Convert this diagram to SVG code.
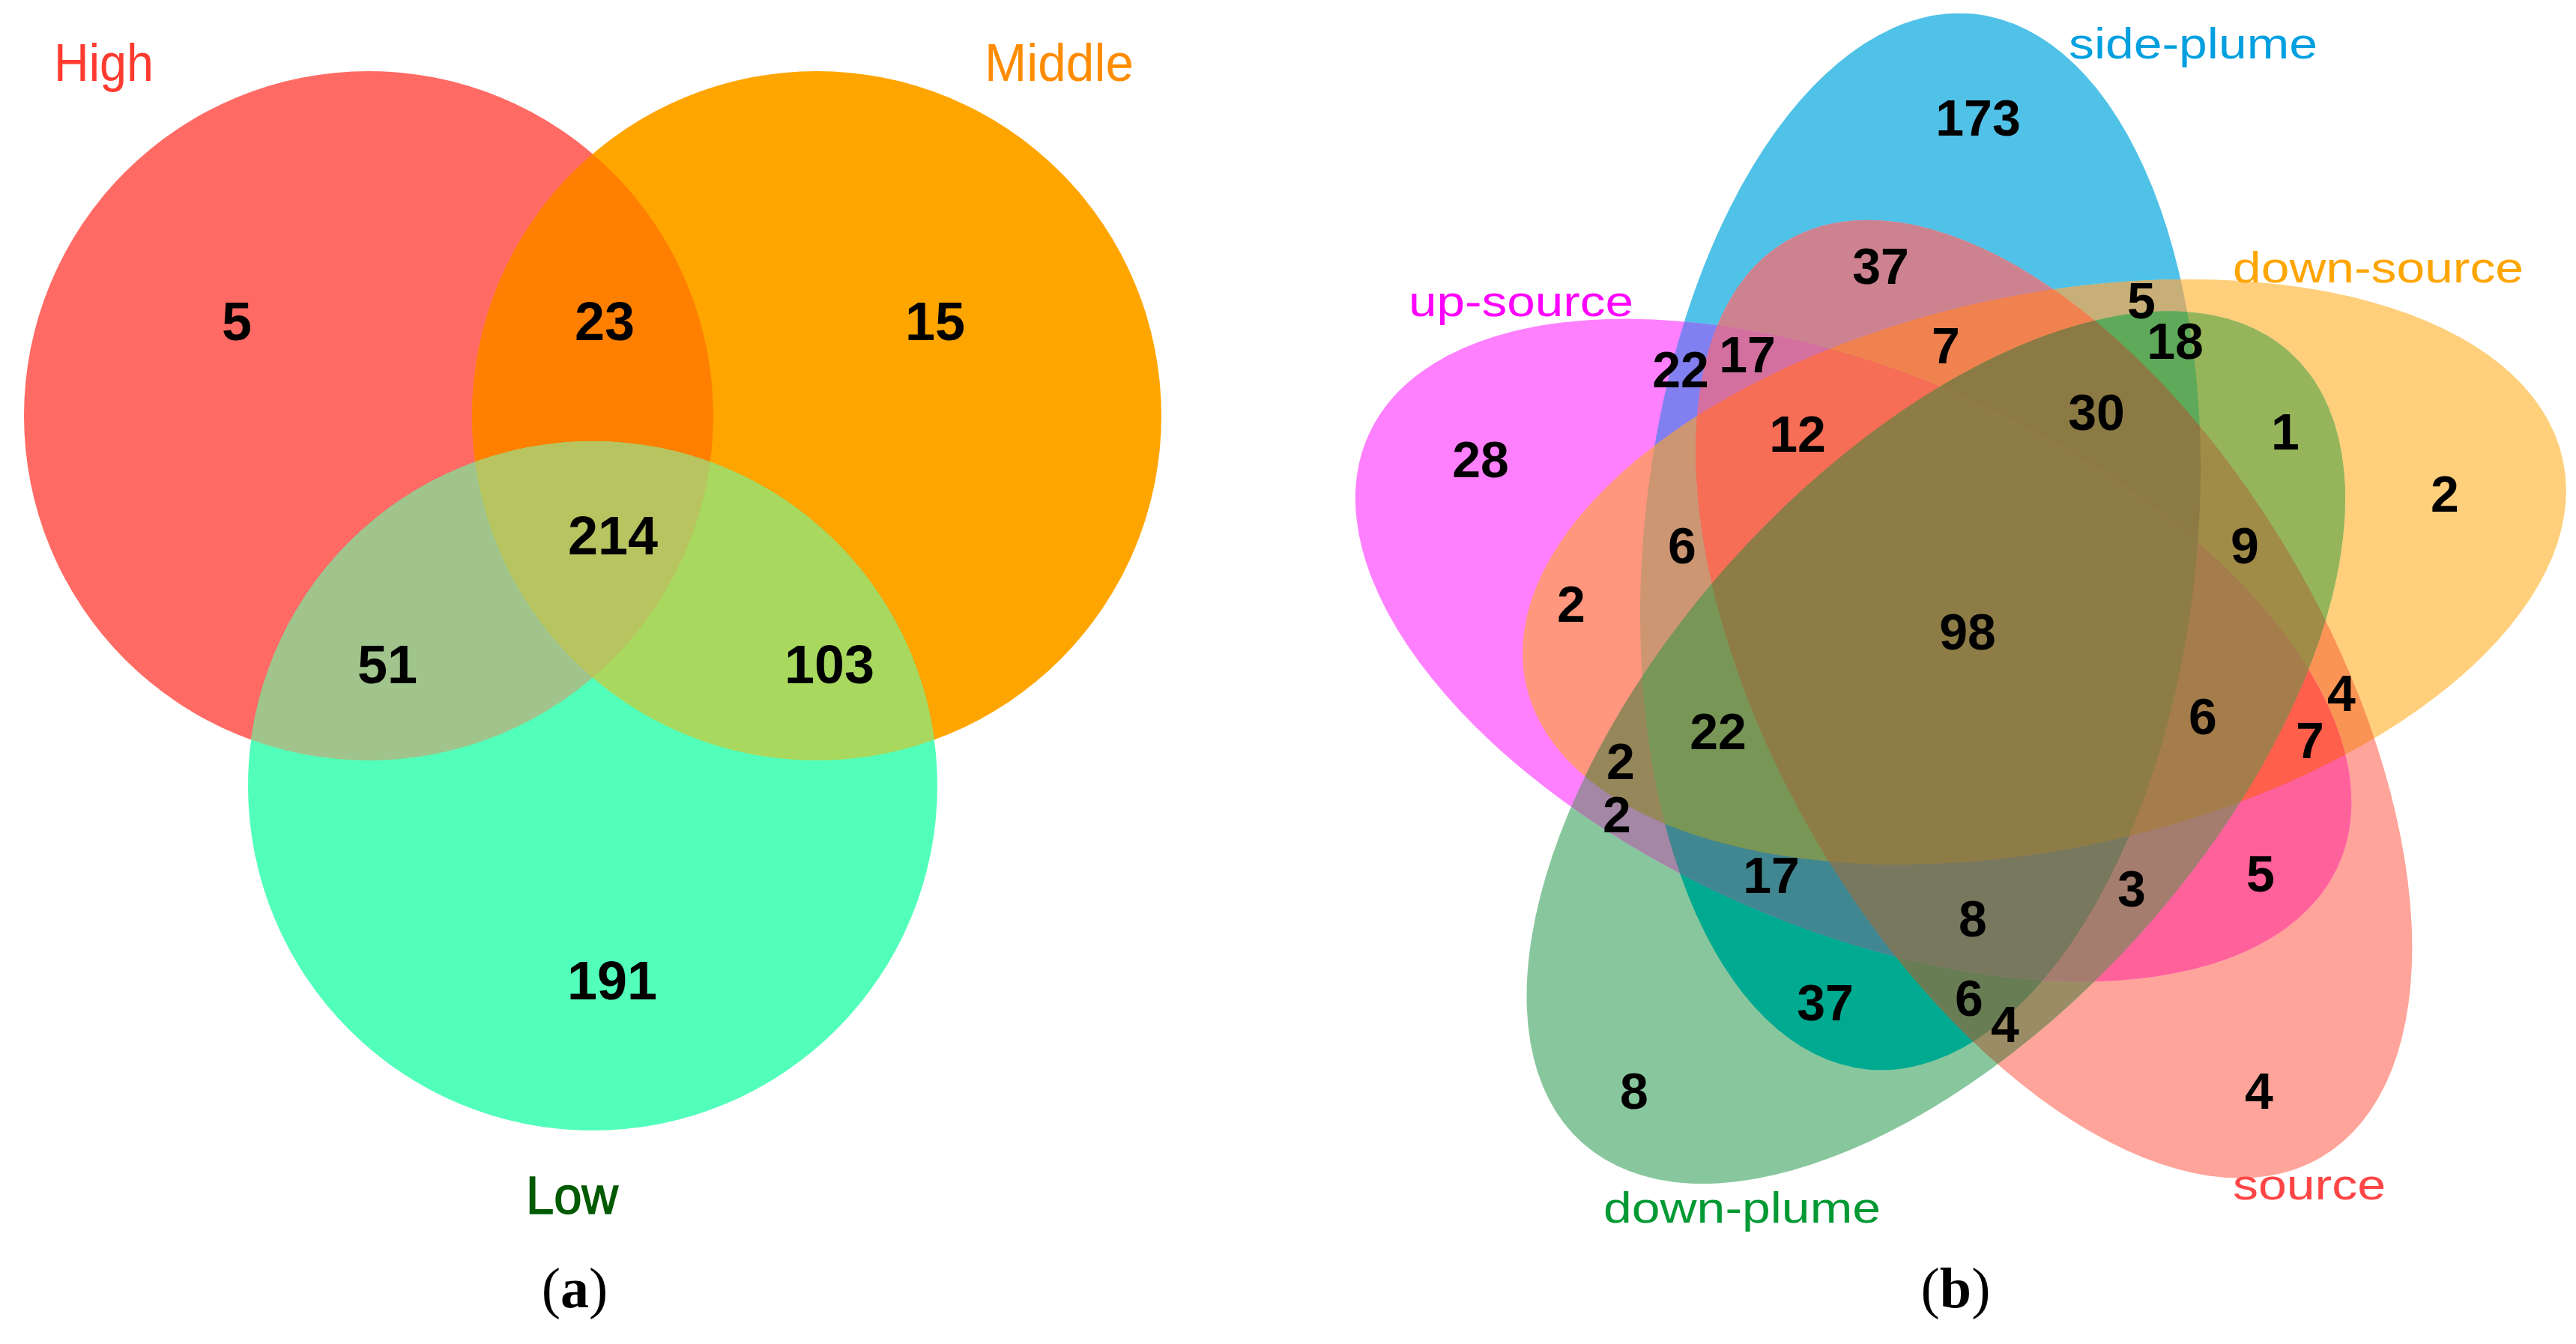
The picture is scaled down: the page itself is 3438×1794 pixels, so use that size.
<svg xmlns="http://www.w3.org/2000/svg" xmlns:xlink="http://www.w3.org/1999/xlink" width="3438" height="1794" viewBox="0 0 3438 1794">
<style>
.n{font-family:"Liberation Sans",Arial,sans-serif;font-weight:bold;font-size:72px;text-anchor:middle;fill:#000}
.m{font-family:"Liberation Sans",Arial,sans-serif;font-weight:bold;font-size:68px;text-anchor:middle;fill:#000}
.lab{font-family:"Liberation Sans",Arial,sans-serif;font-size:70px}
.lb{font-family:"Liberation Sans",Arial,sans-serif;font-size:57px}
.cap{font-family:"Liberation Serif","Times New Roman",serif;font-size:76px;text-anchor:middle;fill:#000}
</style>
<defs>
<circle id="cirH" cx="492" cy="555" r="460"/>
<circle id="cirM" cx="1090" cy="555" r="460"/>
<circle id="cirL" cx="791" cy="1049" r="460"/>
<clipPath id="clH"><circle cx="492" cy="555" r="460"/></clipPath>
<clipPath id="clM"><circle cx="1090" cy="555" r="460"/></clipPath>
<ellipse id="eS" cx="2563" cy="723" rx="369" ry="708" transform="rotate(5.8 2563 723)"/>
<ellipse id="eD" cx="2563" cy="723" rx="369" ry="708" transform="rotate(72 2618 857) rotate(5.8 2563 723)"/>
<ellipse id="eR" cx="2563" cy="723" rx="369" ry="708" transform="rotate(144 2618 857) rotate(5.8 2563 723)"/>
<ellipse id="eP" cx="2563" cy="723" rx="369" ry="708" transform="rotate(216 2618 857) rotate(5.8 2563 723)"/>
<ellipse id="eU" cx="2563" cy="723" rx="369" ry="708" transform="rotate(288 2618 857) rotate(5.8 2563 723)"/>
<clipPath id="cS"><ellipse cx="2563" cy="723" rx="369" ry="708" transform="rotate(5.8 2563 723)"/></clipPath>
<clipPath id="cD"><ellipse cx="2563" cy="723" rx="369" ry="708" transform="rotate(72 2618 857) rotate(5.8 2563 723)"/></clipPath>
<clipPath id="cR"><ellipse cx="2563" cy="723" rx="369" ry="708" transform="rotate(144 2618 857) rotate(5.8 2563 723)"/></clipPath>
<clipPath id="cP"><ellipse cx="2563" cy="723" rx="369" ry="708" transform="rotate(216 2618 857) rotate(5.8 2563 723)"/></clipPath>
</defs>
<rect width="3438" height="1794" fill="#fff"/>

<g id="panel-a">
 <g id="set-high"><use href="#cirH" fill="#FF6B64"/></g>
 <g id="set-middle"><use href="#cirM" fill="#FFA500"/></g>
 <g id="set-low"><use href="#cirL" fill="#52FFBA"/></g>
 <g id="high-middle" clip-path="url(#clH)"><use href="#cirM" fill="#FF8000"/></g>
 <g id="high-low" clip-path="url(#clH)"><use href="#cirL" fill="#A0C48C"/></g>
 <g id="middle-low" clip-path="url(#clM)"><use href="#cirL" fill="#A8D85E"/></g>
 <g id="high-middle-low" clip-path="url(#clH)"><g clip-path="url(#clM)"><use href="#cirL" fill="#B8C460"/></g></g>
 <g id="labels-a">
  <text class="lab" x="72" y="108" fill="#FF3B30" textLength="133" lengthAdjust="spacingAndGlyphs">High</text>
  <text class="lab" x="1314" y="108" fill="#FF8C00" textLength="199" lengthAdjust="spacingAndGlyphs">Middle</text>
  <text class="lab" x="702" y="1620" fill="#005A00" stroke="#005A00" stroke-width="1.5" font-size="64" textLength="123" lengthAdjust="spacingAndGlyphs">Low</text>
  <text class="n" x="316" y="454">5</text>
  <text class="n" x="807" y="454">23</text>
  <text class="n" x="1248" y="454">15</text>
  <text class="n" x="818" y="740">214</text>
  <text class="n" x="517" y="912">51</text>
  <text class="n" x="1107" y="912">103</text>
  <text class="n" x="817" y="1334">191</text>
  <text class="cap" x="767" y="1745">(<tspan font-weight="bold">a</tspan>)</text>
 </g>
</g>

<g id="panel-b">
 <g id="singles">
  <use id="side-plume" href="#eS" fill="#50C2E8"/>
  <use id="down-source" href="#eD" fill="#FFCF7C"/>
  <use id="source" href="#eR" fill="#FFA49A"/>
  <use id="down-plume" href="#eP" fill="#88C79E"/>
  <use id="up-source" href="#eU" fill="#FF80FF"/>
 </g>
 <g id="pairs">
  <g clip-path="url(#cS)"><use href="#eD" fill="#C8AF78"/></g>
  <g clip-path="url(#cS)"><use href="#eR" fill="#CD8290"/></g>
  <g clip-path="url(#cS)"><use href="#eP" fill="#00AA91"/></g>
  <g clip-path="url(#cS)"><use href="#eU" fill="#8280F0"/></g>
  <g clip-path="url(#cD)"><use href="#eR" fill="#FA9455"/></g>
  <g clip-path="url(#cD)"><use href="#eP" fill="#96B45A"/></g>
  <g clip-path="url(#cD)"><use href="#eU" fill="#FF967D"/></g>
  <g clip-path="url(#cR)"><use href="#eP" fill="#9A8C64"/></g>
  <g clip-path="url(#cR)"><use href="#eU" fill="#FF619B"/></g>
  <g clip-path="url(#cP)"><use href="#eU" fill="#A387A5"/></g>
 </g>
 <g id="triples">
  <g clip-path="url(#cS)"><g clip-path="url(#cD)"><use href="#eR" fill="#F08250"/></g></g>
  <g clip-path="url(#cS)"><g clip-path="url(#cD)"><use href="#eP" fill="#5FAA5A"/></g></g>
  <g clip-path="url(#cS)"><g clip-path="url(#cD)"><use href="#eU" fill="#CD9673"/></g></g>
  <g clip-path="url(#cS)"><g clip-path="url(#cR)"><use href="#eP" fill="#697D55"/></g></g>
  <g clip-path="url(#cS)"><g clip-path="url(#cR)"><use href="#eU" fill="#D470A0"/></g></g>
  <g clip-path="url(#cS)"><g clip-path="url(#cP)"><use href="#eU" fill="#418791"/></g></g>
  <g clip-path="url(#cD)"><g clip-path="url(#cR)"><use href="#eP" fill="#A08C46"/></g></g>
  <g clip-path="url(#cD)"><g clip-path="url(#cR)"><use href="#eU" fill="#FF5F4B"/></g></g>
  <g clip-path="url(#cD)"><g clip-path="url(#cP)"><use href="#eU" fill="#96875A"/></g></g>
  <g clip-path="url(#cR)"><g clip-path="url(#cP)"><use href="#eU" fill="#A57D6E"/></g></g>
 </g>
 <g id="quads">
  <g clip-path="url(#cS)"><g clip-path="url(#cD)"><g clip-path="url(#cR)"><use href="#eP" fill="#8C7A44"/></g></g></g>
  <g clip-path="url(#cS)"><g clip-path="url(#cD)"><g clip-path="url(#cR)"><use href="#eU" fill="#F56E55"/></g></g></g>
  <g clip-path="url(#cS)"><g clip-path="url(#cD)"><g clip-path="url(#cP)"><use href="#eU" fill="#789655"/></g></g></g>
  <g clip-path="url(#cS)"><g clip-path="url(#cR)"><g clip-path="url(#cP)"><use href="#eU" fill="#78785F"/></g></g></g>
  <g clip-path="url(#cD)"><g clip-path="url(#cR)"><g clip-path="url(#cP)"><use href="#eU" fill="#A57D4B"/></g></g></g>
 </g>
 <g id="all-five">
  <g clip-path="url(#cS)"><g clip-path="url(#cD)"><g clip-path="url(#cR)"><g clip-path="url(#cP)"><use href="#eU" fill="#8D7C46"/></g></g></g></g>
 </g>
 <g id="labels-b">
  <text class="lb" x="2761" y="78" fill="#00A0E0" textLength="332" lengthAdjust="spacingAndGlyphs">side-plume</text>
  <text class="lb" x="2980" y="377" fill="#FFA500" textLength="388" lengthAdjust="spacingAndGlyphs">down-source</text>
  <text class="lb" x="1880" y="422" fill="#FF00FF" textLength="300" lengthAdjust="spacingAndGlyphs">up-source</text>
  <text class="lb" x="2140" y="1632" fill="#009933" textLength="370" lengthAdjust="spacingAndGlyphs">down-plume</text>
  <text class="lb" x="2980" y="1601" fill="#FF4545" textLength="204" lengthAdjust="spacingAndGlyphs">source</text>
  <text class="m" x="2640" y="181">173</text>
  <text class="m" x="2510" y="379">37</text>
  <text class="m" x="2858" y="425">5</text>
  <text class="m" x="2243" y="517">22</text>
  <text class="m" x="2332" y="497">17</text>
  <text class="m" x="2597" y="485">7</text>
  <text class="m" x="2903" y="479">18</text>
  <text class="m" x="2399" y="603">12</text>
  <text class="m" x="2798" y="574">30</text>
  <text class="m" x="3050" y="600">1</text>
  <text class="m" x="3263" y="683">2</text>
  <text class="m" x="1976" y="637">28</text>
  <text class="m" x="2245" y="752">6</text>
  <text class="m" x="2996" y="752">9</text>
  <text class="m" x="2097" y="830">2</text>
  <text class="m" x="2626" y="867">98</text>
  <text class="m" x="3125" y="949">4</text>
  <text class="m" x="2940" y="980">6</text>
  <text class="m" x="3083" y="1012">7</text>
  <text class="m" x="2293" y="1000">22</text>
  <text class="m" x="2163" y="1040">2</text>
  <text class="m" x="2158" y="1111">2</text>
  <text class="m" x="2364" y="1192">17</text>
  <text class="m" x="2845" y="1210">3</text>
  <text class="m" x="3017" y="1190">5</text>
  <text class="m" x="2633" y="1250">8</text>
  <text class="m" x="2436" y="1362">37</text>
  <text class="m" x="2628" y="1356">6</text>
  <text class="m" x="2676" y="1391">4</text>
  <text class="m" x="2181" y="1480">8</text>
  <text class="m" x="3015" y="1480">4</text>
  <text class="cap" x="2610" y="1745">(<tspan font-weight="bold">b</tspan>)</text>
 </g>
</g>
</svg>
